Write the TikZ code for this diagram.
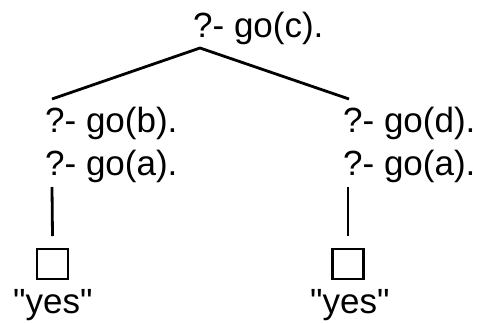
\documentclass[tikz,border=0pt]{standalone}
\usepackage{fontspec}
\setmainfont{Liberation Sans}[Ligatures=TeXOff]
\begin{document}
\begin{tikzpicture}[x=1pt,y=-1pt,
  goal/.style={anchor=base west,inner sep=0pt,font=\fontsize{35}{40}\selectfont},
  edge/.style={line width=2.8pt},
  emptybox/.style={draw,line width=2.6pt,minimum width=31pt,minimum height=30pt,inner sep=0pt}]
\useasboundingbox (0,0) rectangle (477,322);
\node[goal] (c) at (193,37) {?- go(c).};
\node[goal] (b) at (45,132) {?- go(b).};
\node[goal] (ba) at (45,175) {?- go(a).};
\node[goal] (d) at (343,132) {?- go(d).};
\node[goal] (da) at (343,175) {?- go(a).};
\coordinate (apex) at (200,48);
\coordinate (lb) at (52,99);
\coordinate (rb) at (349,99);
\draw[edge,line join=miter] (lb) -- (apex) -- (rb);
\coordinate (lt) at (52,187);
\coordinate (rt) at (348,187);
\node[emptybox] (lbox) at (52.5,264) {};
\node[emptybox] (rbox) at (348,264) {};
\draw[edge] (lt) -- (lbox.north |- 0,236);
\draw[edge] (rt) -- (rbox.north |- 0,236);
\node[goal] (ly) at (13,313) {"yes"};
\node[goal] (ry) at (310,313) {"yes"};
\end{tikzpicture}
\end{document}
